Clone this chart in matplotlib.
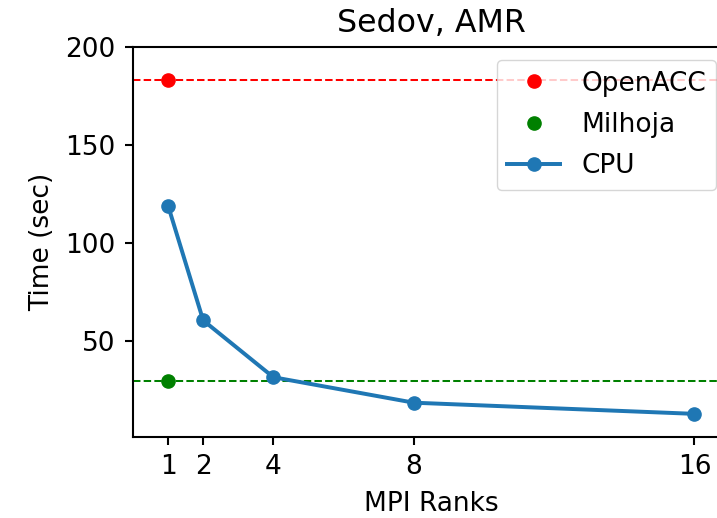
import matplotlib
matplotlib.use("Agg")
import matplotlib.pyplot as plt

ranks = [1, 2, 4, 8, 16]
cpu_times = [119, 60.5, 31.5, 18.5, 12.8]
openacc_time = 183
milhoja_time = 29.5

plt.rcParams.update({
    'font.size': 19,
    'axes.linewidth': 1.5,
    'xtick.major.size': 6,
    'ytick.major.size': 6,
    'xtick.major.width': 1.5,
    'ytick.major.width': 1.5,
    'xtick.major.pad': 6.5,
    'ytick.major.pad': 6.5,
    'axes.labelpad': 7.5,
    'axes.titlepad': 11,
})

fig = plt.figure(figsize=(7.17, 5.18), dpi=100)
ax = fig.add_axes([0.1855, 0.1564, 0.832, 0.7529])

ax.axhline(openacc_time, color='red', linestyle='--', linewidth=1.45)
ax.axhline(milhoja_time, color='green', linestyle='--', linewidth=1.45)
ax.plot([1], [openacc_time], 'o', color='red', markersize=9.5, label='OpenACC')
ax.plot([1], [milhoja_time], 'o', color='green', markersize=9.5, label='Milhoja')
ax.plot(ranks, cpu_times, '-o', color='#1f77b4', linewidth=2.85, markersize=9.5, label='CPU')

ax.set_xlim(0, 17)
ax.set_ylim(1, 200)
ax.set_xticks(ranks)
ax.set_yticks([50, 100, 150, 200])
ax.set_xlabel('MPI Ranks')
ax.set_ylabel('Time (sec)')
ax.set_title('Sedov, AMR')
ax.legend(loc='upper right', labelspacing=0.58)

fig.savefig('out.png', dpi=100)
